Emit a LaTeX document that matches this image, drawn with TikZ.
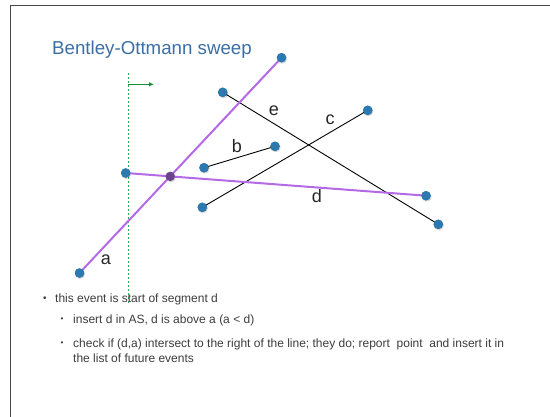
\documentclass[tikz,border=0pt]{standalone}
\usepackage{fontspec}
\setmainfont{Liberation Sans}
\usetikzlibrary{arrows.meta}
\definecolor{titleblue}{RGB}{58,110,165}
\definecolor{dotblue}{RGB}{44,121,176}
\definecolor{segpurple}{RGB}{180,105,230}
\definecolor{xpurple}{RGB}{108,66,140}
\definecolor{sweepgreen}{RGB}{60,170,80}
\definecolor{arrowgreen}{RGB}{30,140,55}
\definecolor{bodygray}{RGB}{60,60,60}
\definecolor{framegray}{RGB}{70,70,70}
\tikzset{
  endpt/.style={circle,fill=dotblue,inner sep=0pt,minimum size=9.4pt},
  xpt/.style={circle,fill=xpurple,inner sep=0pt,minimum size=9.4pt},
  shadowpt/.style={circle,fill=black,opacity=0.18,inner sep=0pt,minimum size=10pt},
  plainseg/.style={black,line width=0.9pt},
  activeseg/.style={segpurple,line width=2pt},
  seglabel/.style={font=\fontsize{18}{20}\selectfont,text=black!85,inner sep=0pt},
  bodytext/.style={font=\fontsize{12}{14}\selectfont,text=bodygray,inner sep=0pt,anchor=base west},
  bulletmark/.style={font=\fontsize{10}{11}\selectfont,text=bodygray,inner sep=0pt},
}
\begin{document}
\begin{tikzpicture}[x=1pt,y=-1pt]
\useasboundingbox (0,0) rectangle (550,416);
% frame
\coordinate (fbl) at (10,417);
\coordinate (ftl) at (10,5);
\coordinate (ftr) at (551,5);
\draw[framegray,line width=1pt] (fbl) -- (ftl) -- (ftr);
% title
\node[anchor=base west,inner sep=0pt,text=titleblue,font=\fontsize{18.7}{22}\selectfont] (title) at (52,54) {Bentley-Ottmann sweep};
% end point positions
\coordinate (pa1) at (79.5,273);
\coordinate (pa2) at (281.5,57.7);
\coordinate (pb1) at (204,167.7);
\coordinate (pb2) at (275,146.3);
\coordinate (pc1) at (202.3,207.3);
\coordinate (pc2) at (367.7,110.3);
\coordinate (pd1) at (125.7,173);
\coordinate (pd2) at (426,195.7);
\coordinate (pe1) at (222.7,92.3);
\coordinate (pe2) at (438.3,224.3);
\coordinate (px) at (intersection of pa1--pa2 and pd1--pd2);
% sweep line
\coordinate (swtop) at (128,73);
\coordinate (swbot) at (128,304);
\coordinate (arrs) at (128,84.3);
\coordinate (arre) at (154,84.3);
\draw[sweepgreen,line width=1pt,dash pattern=on 1.6pt off 2.4pt] (swtop) -- (swbot);
\draw[arrowgreen,line width=1pt,-{Latex[length=5pt,width=4.5pt]}] (arrs) -- (arre);
% shadows
\foreach \p in {pa1,pa2,pb1,pb2,pc1,pc2,pd1,pd2,pe1,pe2,px}
  \node[shadowpt] at ([shift={(0.6,0.9)}]\p) {};
% end point nodes
\node[endpt] (a1) at (pa1) {};
\node[endpt] (a2) at (pa2) {};
\node[endpt] (b1) at (pb1) {};
\node[endpt] (b2) at (pb2) {};
\node[endpt] (c1) at (pc1) {};
\node[endpt] (c2) at (pc2) {};
\node[endpt] (d1) at (pd1) {};
\node[endpt] (d2) at (pd2) {};
\node[endpt] (e1) at (pe1) {};
\node[endpt] (e2) at (pe2) {};
% segments
\draw[plainseg] (b1.center) -- (b2.center);
\draw[plainseg] (c1.center) -- (c2.center);
\draw[plainseg] (e1.center) -- (e2.center);
\draw[activeseg] (a1.center) -- (a2.center);
\draw[activeseg] (d1.center) -- (d2.center);
% redraw dots on top
\foreach \p in {pa1,pa2,pb1,pb2,pc1,pc2,pd1,pd2,pe1,pe2}
  \fill[dotblue] (\p) circle (4.7pt);
\node[xpt] (x) at (px) {};
% segment labels
\node[seglabel] (la) at (106,259.5) {a};
\node[seglabel] (lb) at (237,146) {b};
\node[seglabel] (lc) at (330,120) {c};
\node[seglabel] (ld) at (317,196) {d};
\node[seglabel] (le) at (274,111) {e};
% bullets
\node[bulletmark] (bu1) at (45,299) {•};
\node[bodytext] (t1) at (55,302) {this event is start of segment d};
\node[bulletmark,font=\fontsize{8}{9}\selectfont] (bu2) at (62,320) {•};
\node[bodytext] (t2) at (73,323) {insert d in AS, d is above a (a < d)};
\node[bulletmark,font=\fontsize{8}{9}\selectfont] (bu3) at (62,343.5) {•};
\node[bodytext] (t3) at (73,347) {check if (d,a) intersect to the right of the line; they do; report\ \ point\ \ and insert it in};
\node[bodytext] (t4) at (73,362) {the list of future events};
\end{tikzpicture}
\end{document}
